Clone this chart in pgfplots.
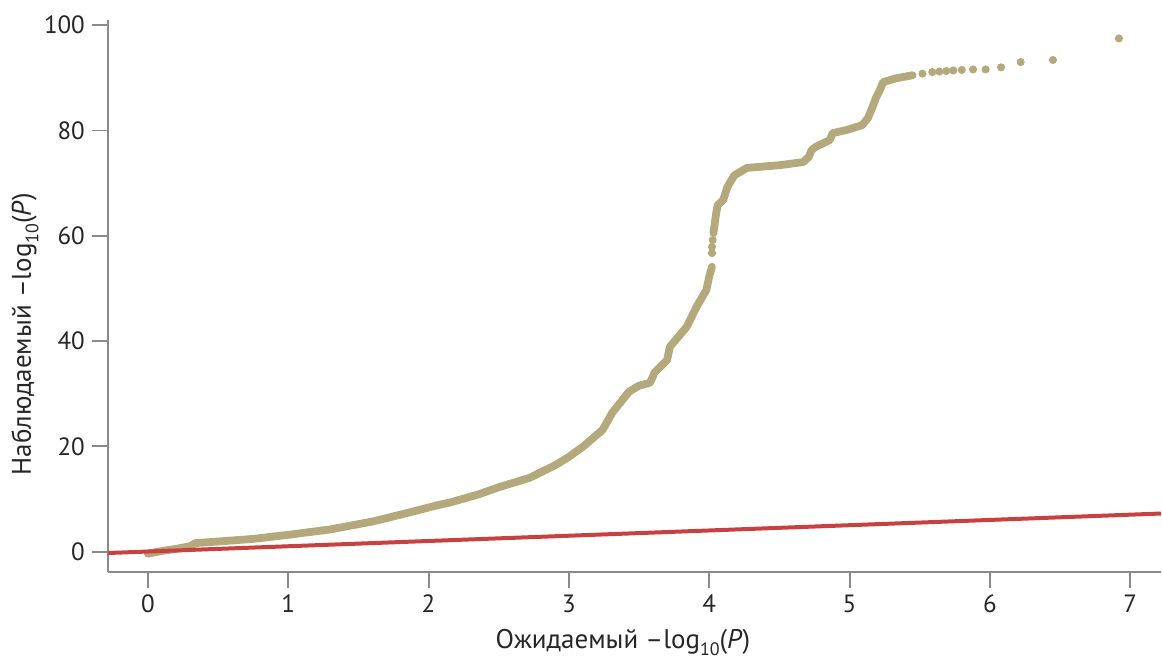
\documentclass[border=0pt]{standalone}
\usepackage{fontspec}
\setmainfont{PT Sans}
\usepackage{pgfplots}
\pgfplotsset{compat=1.18}
\definecolor{tanc}{HTML}{B3A97D}
\definecolor{redl}{HTML}{C6413F}
\definecolor{axg}{HTML}{8A8A8A}
\newcommand{\sub}[1]{\raisebox{-0.55ex}{\fontsize{9}{10}\selectfont #1}}
\begin{document}
\begin{tikzpicture}
\begin{axis}[
  scale only axis, width=527pt, height=276pt,
  xmin=-0.285, xmax=7.22, ymin=-3.8, ymax=101,
  axis x line*=bottom, axis y line*=left,
  axis line style={axg, line width=1pt},
  xtick={0,1,2,3,4,5,6,7}, ytick={0,20,40,60,80,100},
  tick align=outside, major tick length=8pt,
  tick style={axg, line width=1pt},
  every tick label/.append style={font=\fontsize{12.5}{14}\selectfont, text=black!85},
  /pgf/number format/assume math mode=true,
  every axis x label/.style={at={(rel axis cs:0.489,0)}, yshift=-35.5pt, anchor=center},
  every axis y label/.style={at={(rel axis cs:0,0.43)}, xshift=-41.5pt, rotate=90, anchor=center},
  label style={font=\fontsize{13.5}{16}\selectfont, text=black!85},
  xlabel={Ожидаемый –log\sub{10}(\textit{P})},
  ylabel={Наблюдаемый –log\sub{10}(\textit{P})},
]
% dense part 1
\addplot[tanc, line width=3.9pt, line cap=round, line join=round] coordinates {
(0,-0.4) (0.1,0.1) (0.2,0.5) (0.3,1.0) (0.34,1.6) (0.5,1.9) (0.75,2.4) (1.01,3.2)
(1.3,4.2) (1.6,5.7) (1.8,7.0) (2.08,8.9) (2.15,9.3) (2.35,10.8) (2.51,12.3) (2.72,14.0)
(2.91,16.5) (3.0,18.0) (3.10,19.9) (3.24,23.1) (3.31,26.4) (3.43,30.4) (3.50,31.5) (3.58,32.1)
(3.61,34.0) (3.70,36.4) (3.72,38.9) (3.84,42.7) (3.91,46.5) (3.98,49.7) (4.00,52.2) (4.02,54.1)
};
% dense part 2
\addplot[tanc, line width=3.9pt, line cap=round, line join=round] coordinates {
(4.03,60.5) (4.04,62.4) (4.05,64.3) (4.06,65.8) (4.10,66.8) (4.13,69.3) (4.18,71.5) (4.27,72.9)
(4.50,73.4) (4.67,74.0) (4.71,75.0) (4.73,76.3) (4.76,76.9) (4.86,78.2) (4.88,79.5) (4.98,80.1)
(5.09,81.0) (5.13,82.3) (5.16,84.2) (5.19,86.3) (5.21,87.3) (5.24,89.2) (5.33,89.9) (5.45,90.5)
};
% isolated points
\addplot[only marks, mark=*, mark size=1.8pt, tanc, mark options={draw=tanc, fill=tanc}] coordinates {
(4.02,56.7) (4.02,57.9) (4.025,59.2)
(5.52,90.8) (5.59,91.1) (5.64,91.2) (5.69,91.3) (5.74,91.4) (5.80,91.5) (5.88,91.6) (5.97,91.6)
(6.08,92.0) (6.22,93.0) (6.45,93.4) (6.92,97.5)
};
% expected line
\addplot[redl, line width=2pt] coordinates {(-0.285,-0.285) (7.22,7.22)};
\end{axis}
\path (current axis.south west) ++(-54pt,-46pt);
\path (current axis.north east) ++(0pt,10pt);
\end{tikzpicture}
\end{document}
